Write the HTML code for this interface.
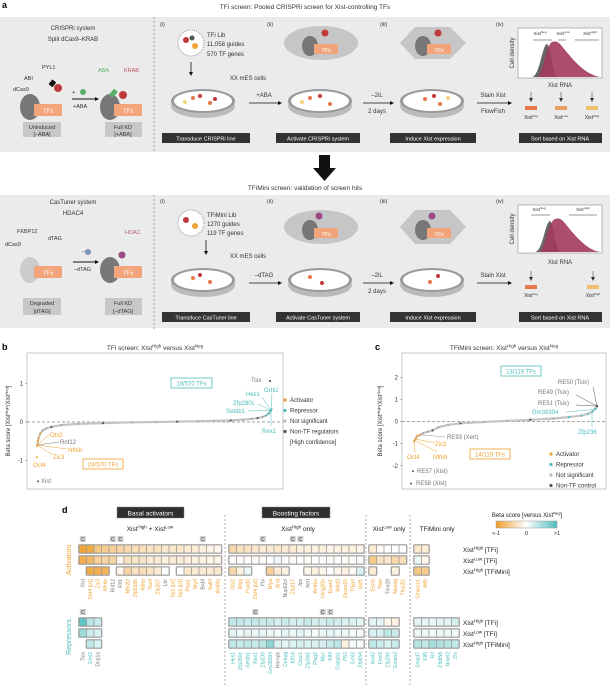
<!DOCTYPE html>
<html><head><meta charset="utf-8">
<style>
html,body{margin:0;padding:0;background:#fff;}
svg{display:block;font-family:"Liberation Sans",sans-serif;}
</style></head>
<body>
<svg id="fig" width="610" height="685" viewBox="0 0 610 685" xmlns="http://www.w3.org/2000/svg">
<!-- ================= PANEL A ================= -->
<g>
<text x="2" y="8" font-size="9" font-weight="bold">a</text>
<text x="305" y="9" font-size="6.5" text-anchor="middle" fill="#333">TFi screen: Pooled CRISPRi screen for Xist-controlling TFs</text>
<rect x="0" y="17" width="610" height="135" fill="#ebebeb"/>
<line x1="154" y1="17" x2="154" y2="152" stroke="#888" stroke-dasharray="2,2" stroke-width="0.8"/>
<text x="73" y="30" font-size="6" text-anchor="middle" fill="#333">CRISPRi system</text>
<text x="73" y="41" font-size="6" text-anchor="middle" fill="#333">Split dCas9–KRAB</text>
<!-- simplified left diagram -->
<ellipse cx="30" cy="107" rx="10" ry="13" fill="#777"/>
<rect x="34" y="104" width="28" height="12" fill="#f2a57a"/>
<text x="48" y="113" font-size="6" font-style="italic" fill="#fff" text-anchor="middle">TFx</text>
<text x="13" y="91" font-size="5.5" fill="#333">dCas9</text>
<text x="24" y="80" font-size="5.5" fill="#333">ABI</text>
<text x="42" y="69" font-size="5.5" fill="#333">PYL1</text>
<circle cx="58" cy="88" r="4" fill="#c0393b"/>
<rect x="50" y="80" width="5" height="6" fill="#111" transform="rotate(40 52 83)"/>
<text x="72" y="94" font-size="5.5" fill="#333">+</text>
<circle cx="83" cy="92" r="3" fill="#5aae6a"/>
<line x1="72" y1="99" x2="95" y2="99" stroke="#111" stroke-width="1"/>
<polygon points="95,97 99,99 95,101" fill="#111"/>
<text x="73" y="108" font-size="5.5" fill="#333">+ABA</text>
<ellipse cx="110" cy="107" rx="10" ry="13" fill="#777"/>
<rect x="114" y="104" width="28" height="12" fill="#f2a57a"/>
<text x="128" y="113" font-size="6" font-style="italic" fill="#fff" text-anchor="middle">TFx</text>
<text x="98" y="72" font-size="5.5" fill="#5aae6a">ABA</text>
<text x="124" y="72" font-size="5.5" fill="#c05060">KRAB</text>
<circle cx="123" cy="95" r="4" fill="#c0393b"/>
<rect x="111" y="89" width="5" height="8" fill="#5aae6a" transform="rotate(40 113 93)"/>
<rect x="23" y="122" width="38" height="15" fill="#c8c8c8"/>
<text x="42" y="129" font-size="5.5" text-anchor="middle" fill="#333">Uninduced</text>
<text x="42" y="136" font-size="5.5" text-anchor="middle" fill="#333">[–ABA]</text>
<rect x="105" y="122" width="37" height="15" fill="#c8c8c8"/>
<text x="123" y="129" font-size="5.5" text-anchor="middle" fill="#333">Full KD</text>
<text x="123" y="136" font-size="5.5" text-anchor="middle" fill="#333">[+ABA]</text>
<text x="160" y="26" font-size="5.5" fill="#333">(i)</text>
<text x="267" y="26" font-size="5.5" fill="#333">(ii)</text>
<text x="380" y="26" font-size="5.5" fill="#333">(iii)</text>
<text x="496" y="26" font-size="5.5" fill="#333">(iv)</text>
<circle cx="191" cy="43" r="13" fill="#fff" stroke="#999" stroke-dasharray="1,1"/>
<circle cx="186" cy="40" r="3" fill="#c0393b"/><circle cx="195" cy="46" r="3" fill="#f0a43a"/><circle cx="192" cy="38" r="2.5" fill="#555"/>
<text x="207" y="37" font-size="6" fill="#333">TFi Lib</text>
<text x="207" y="46" font-size="6" fill="#333">11,058 guides</text>
<text x="207" y="56" font-size="6" fill="#333">570 TF genes</text>
<line x1="191" y1="62" x2="191" y2="73" stroke="#111" stroke-width="0.8"/><polygon points="189,72 191,76 193,72" fill="#111"/>
<text x="248" y="80" font-size="6" text-anchor="middle" fill="#333">XX mES cells</text>
<g>
<ellipse cx="203" cy="106" rx="32" ry="12" fill="#bbb"/><ellipse cx="203" cy="101" rx="32" ry="12" fill="#999"/><ellipse cx="203" cy="101" rx="29" ry="10" fill="#fff"/>
<ellipse cx="320" cy="106" rx="32" ry="12" fill="#bbb"/><ellipse cx="320" cy="101" rx="32" ry="12" fill="#999"/><ellipse cx="320" cy="101" rx="29" ry="10" fill="#fff"/>
<ellipse cx="432" cy="106" rx="32" ry="12" fill="#bbb"/><ellipse cx="432" cy="101" rx="32" ry="12" fill="#999"/><ellipse cx="432" cy="101" rx="29" ry="10" fill="#fff"/>
</g>
<g fill="#e8784a"><circle cx="193" cy="98" r="2"/><circle cx="210" cy="103" r="2"/><circle cx="310" cy="98" r="2"/><circle cx="330" cy="104" r="2"/><circle cx="425" cy="99" r="2"/><circle cx="440" cy="104" r="2"/></g>
<g fill="#c0393b"><circle cx="200" cy="96" r="2"/><circle cx="215" cy="99" r="2"/><circle cx="320" cy="96" r="2"/><circle cx="434" cy="96" r="2"/></g>
<g fill="#f4d27a"><circle cx="185" cy="102" r="2"/><circle cx="302" cy="102" r="2"/><circle cx="448" cy="98" r="2"/></g>
<ellipse cx="321" cy="43" rx="37" ry="17" fill="#c6c6c6"/>
<polygon points="400,43 415,27 450,27 466,43 450,59 415,59" fill="#c6c6c6"/>
<ellipse cx="310" cy="46" rx="8" ry="10" fill="#777"/><rect x="314" y="44" width="24" height="10" fill="#f2a57a"/><text x="326" y="52" font-size="5.5" font-style="italic" fill="#fff" text-anchor="middle">TFx</text>
<ellipse cx="423" cy="46" rx="8" ry="10" fill="#777"/><rect x="427" y="44" width="24" height="10" fill="#f2a57a"/><text x="439" y="52" font-size="5.5" font-style="italic" fill="#fff" text-anchor="middle">TFx</text>
<circle cx="325" cy="33" r="3.5" fill="#c0393b"/><circle cx="438" cy="33" r="3.5" fill="#c0393b"/>
<line x1="249" y1="103" x2="278" y2="103" stroke="#111" stroke-width="0.8"/><polygon points="278,101 282,103 278,105" fill="#111"/>
<text x="264" y="97" font-size="6" text-anchor="middle" fill="#333">+ABA</text>
<line x1="363" y1="103" x2="390" y2="103" stroke="#111" stroke-width="0.8"/><polygon points="390,101 394,103 390,105" fill="#111"/>
<text x="377" y="97" font-size="6" text-anchor="middle" fill="#333">–2iL</text>
<text x="377" y="113" font-size="6" text-anchor="middle" fill="#333">2 days</text>
<line x1="477" y1="103" x2="508" y2="103" stroke="#111" stroke-width="0.8"/><polygon points="508,101 512,103 508,105" fill="#111"/>
<text x="493" y="97" font-size="6" text-anchor="middle" fill="#333">Stain Xist</text>
<text x="493" y="113" font-size="6" text-anchor="middle" fill="#333">FlowFish</text>
<rect x="162" y="133" width="88" height="10" fill="#333"/><text x="206" y="140.5" font-size="5.5" fill="#fff" text-anchor="middle">Transduce CRISPRi line</text>
<rect x="276" y="133" width="84" height="10" fill="#333"/><text x="318" y="140.5" font-size="5.5" fill="#fff" text-anchor="middle">Activate CRISPRi system</text>
<rect x="390" y="133" width="86" height="10" fill="#333"/><text x="433" y="140.5" font-size="5.5" fill="#fff" text-anchor="middle">Induce Xist expression</text>
<rect x="519" y="133" width="83" height="10" fill="#333"/><text x="560" y="140.5" font-size="5.5" fill="#fff" text-anchor="middle">Sort based on Xist RNA</text>
<rect x="518" y="28" width="84" height="50" fill="#fff" stroke="#777" stroke-width="0.5"/>
<path d="M532,77 C540,76 542,45 547,44 C551,46 552,76 558,77 Z" fill="#666"/>
<path d="M538,77 C544,70 546,45 552,42 C558,40 560,44 565,50 C575,62 585,74 600,77 Z" fill="#a3385f" opacity="0.9"/>
<text x="514" y="53" font-size="6" text-anchor="middle" fill="#333" transform="rotate(-90 514 53)">Cell density</text>
<text x="560" y="87" font-size="6" text-anchor="middle" fill="#333">Xist RNA</text>
<text x="540" y="35" font-size="4.5" text-anchor="middle" fill="#333">Xist<tspan font-size="3" dy="-2">Neg</tspan></text>
<text x="563" y="35" font-size="4.5" text-anchor="middle" fill="#333">Xist<tspan font-size="3" dy="-2">Low</tspan></text>
<text x="590" y="35" font-size="4.5" text-anchor="middle" fill="#333">Xist<tspan font-size="3" dy="-2">High</tspan></text>
<g stroke="#333" stroke-width="0.5"><line x1="533" y1="40" x2="552" y2="40"/><line x1="558" y1="40" x2="566" y2="40"/><line x1="575" y1="40" x2="599" y2="40"/></g>
<g fill="#333"><polygon points="529,98 531,102 533,98"/><polygon points="559,98 561,102 563,98"/><polygon points="590,98 592,102 594,98"/></g>
<g stroke="#333" stroke-width="0.5"><line x1="531" y1="92" x2="531" y2="98"/><line x1="561" y1="92" x2="561" y2="98"/><line x1="592" y1="92" x2="592" y2="98"/></g>
<rect x="525" y="106" width="12" height="4" fill="#e8784a"/><rect x="555" y="106" width="12" height="4" fill="#e8a060"/><rect x="586" y="106" width="12" height="4" fill="#f0c070"/>
<text x="531" y="119" font-size="5" text-anchor="middle" fill="#333">Xist<tspan font-size="3" dy="-2">Neg</tspan></text>
<text x="561" y="119" font-size="5" text-anchor="middle" fill="#333">Xist<tspan font-size="3" dy="-2">Low</tspan></text>
<text x="592" y="119" font-size="5" text-anchor="middle" fill="#333">Xist<tspan font-size="3" dy="-2">High</tspan></text>
<polygon points="319,155 330,155 330,168 336,168 324.5,181 313,168 319,168" fill="#111"/>
<text x="305" y="190" font-size="6.5" text-anchor="middle" fill="#333">TFiMini screen: validation of screen hits</text>
<rect x="0" y="195" width="610" height="133" fill="#ebebeb"/>
<line x1="154" y1="195" x2="154" y2="330" stroke="#888" stroke-dasharray="2,2" stroke-width="0.8"/>
<text x="73" y="204" font-size="6" text-anchor="middle" fill="#333">CasTuner system</text>
<text x="73" y="215" font-size="6" text-anchor="middle" fill="#333">HDAC4</text>
<ellipse cx="30" cy="270" rx="10" ry="13" fill="#ccc"/><rect x="34" y="266" width="28" height="12" fill="#f2a57a"/><text x="48" y="275" font-size="6" font-style="italic" fill="#fff" text-anchor="middle">TFx</text>
<text x="5" y="246" font-size="5.5" fill="#333">dCas9</text><text x="17" y="233" font-size="5.5" fill="#333">FKBP12</text><text x="48" y="240" font-size="5.5" fill="#333">dTAG</text>
<text x="82" y="253" font-size="5.5" fill="#333">–</text><circle cx="88" cy="252" r="3" fill="#7a95b5"/>
<line x1="73" y1="262" x2="95" y2="262" stroke="#111" stroke-width="1"/><polygon points="95,260 99,262 95,264" fill="#111"/>
<text x="74" y="271" font-size="5.5" fill="#333">–dTAG</text>
<ellipse cx="110" cy="270" rx="10" ry="13" fill="#777"/><rect x="114" y="266" width="28" height="12" fill="#f2a57a"/><text x="128" y="275" font-size="6" font-style="italic" fill="#fff" text-anchor="middle">TFx</text>
<text x="125" y="234" font-size="5.5" fill="#b0608e">HDAC</text><circle cx="122" cy="255" r="3.5" fill="#9a4a82"/>
<rect x="23" y="298" width="38" height="17" fill="#c8c8c8"/><text x="42" y="305" font-size="5.5" text-anchor="middle" fill="#333">Degraded</text><text x="42" y="313" font-size="5.5" text-anchor="middle" fill="#333">[dTAG]</text>
<rect x="105" y="298" width="37" height="17" fill="#c8c8c8"/><text x="123" y="305" font-size="5.5" text-anchor="middle" fill="#333">Full KD</text><text x="123" y="313" font-size="5.5" text-anchor="middle" fill="#333">[–dTAG]</text>
<text x="160" y="203" font-size="5.5" fill="#333">(i)</text><text x="267" y="203" font-size="5.5" fill="#333">(ii)</text><text x="380" y="203" font-size="5.5" fill="#333">(iii)</text><text x="496" y="203" font-size="5.5" fill="#333">(iv)</text>
<circle cx="191" cy="223" r="13" fill="#fff" stroke="#999" stroke-dasharray="1,1"/>
<circle cx="186" cy="220" r="3" fill="#c0393b"/><circle cx="195" cy="226" r="3" fill="#f0a43a"/>
<text x="207" y="217" font-size="6" fill="#333">TFiMini Lib</text><text x="207" y="226" font-size="6" fill="#333">1270 guides</text><text x="207" y="235" font-size="6" fill="#333">119 TF genes</text>
<line x1="206" y1="240" x2="206" y2="252" stroke="#111" stroke-width="0.8"/><polygon points="204,251 206,255 208,251" fill="#111"/>
<text x="248" y="258" font-size="6" text-anchor="middle" fill="#333">XX mES cells</text>
<ellipse cx="203" cy="285" rx="32" ry="12" fill="#bbb"/><ellipse cx="203" cy="280" rx="32" ry="12" fill="#999"/><ellipse cx="203" cy="280" rx="29" ry="10" fill="#fff"/>
<ellipse cx="320" cy="285" rx="32" ry="12" fill="#bbb"/><ellipse cx="320" cy="280" rx="32" ry="12" fill="#999"/><ellipse cx="320" cy="280" rx="29" ry="10" fill="#fff"/>
<ellipse cx="432" cy="285" rx="32" ry="12" fill="#bbb"/><ellipse cx="432" cy="280" rx="32" ry="12" fill="#999"/><ellipse cx="432" cy="280" rx="29" ry="10" fill="#fff"/>
<g fill="#e8784a"><circle cx="193" cy="278" r="2"/><circle cx="210" cy="282" r="2"/><circle cx="310" cy="277" r="2"/><circle cx="430" cy="282" r="2"/></g>
<g fill="#c0393b"><circle cx="200" cy="275" r="2"/><circle cx="322" cy="283" r="2"/><circle cx="438" cy="276" r="2"/></g>
<ellipse cx="321" cy="227" rx="37" ry="17" fill="#c6c6c6"/>
<polygon points="400,227 415,210 450,210 466,227 450,244 415,244" fill="#c6c6c6"/>
<ellipse cx="310" cy="230" rx="8" ry="10" fill="#777"/><rect x="314" y="228" width="24" height="10" fill="#f2a57a"/><text x="326" y="236" font-size="5.5" font-style="italic" fill="#fff" text-anchor="middle">TFx</text>
<ellipse cx="423" cy="230" rx="8" ry="10" fill="#777"/><rect x="427" y="228" width="24" height="10" fill="#f2a57a"/><text x="439" y="236" font-size="5.5" font-style="italic" fill="#fff" text-anchor="middle">TFx</text>
<circle cx="319" cy="216" r="3.5" fill="#9a4a82"/><circle cx="432" cy="216" r="3.5" fill="#9a4a82"/>
<line x1="249" y1="283" x2="278" y2="283" stroke="#111" stroke-width="0.8"/><polygon points="278,281 282,283 278,285" fill="#111"/>
<text x="264" y="277" font-size="6" text-anchor="middle" fill="#333">–dTAG</text>
<line x1="363" y1="283" x2="390" y2="283" stroke="#111" stroke-width="0.8"/><polygon points="390,281 394,283 390,285" fill="#111"/>
<text x="377" y="277" font-size="6" text-anchor="middle" fill="#333">–2iL</text><text x="377" y="293" font-size="6" text-anchor="middle" fill="#333">2 days</text>
<line x1="477" y1="283" x2="508" y2="283" stroke="#111" stroke-width="0.8"/><polygon points="508,281 512,283 508,285" fill="#111"/>
<text x="493" y="277" font-size="6" text-anchor="middle" fill="#333">Stain Xist</text>
<rect x="162" y="312" width="88" height="10" fill="#333"/><text x="206" y="319.5" font-size="5.5" fill="#fff" text-anchor="middle">Transduce CasTuner line</text>
<rect x="276" y="312" width="84" height="10" fill="#333"/><text x="318" y="319.5" font-size="5.5" fill="#fff" text-anchor="middle">Activate CasTuner system</text>
<rect x="390" y="312" width="86" height="10" fill="#333"/><text x="433" y="319.5" font-size="5.5" fill="#fff" text-anchor="middle">Induce Xist expression</text>
<rect x="519" y="312" width="83" height="10" fill="#333"/><text x="560" y="319.5" font-size="5.5" fill="#fff" text-anchor="middle">Sort based on Xist RNA</text>
<rect x="518" y="205" width="84" height="48" fill="#fff" stroke="#777" stroke-width="0.5"/>
<path d="M535,252 C543,251 545,222 550,221 C554,223 555,251 561,252 Z" fill="#666"/>
<path d="M540,252 C546,245 548,222 555,219 C561,217 563,221 568,227 C578,239 588,250 600,252 Z" fill="#a3385f" opacity="0.9"/>
<text x="514" y="229" font-size="6" text-anchor="middle" fill="#333" transform="rotate(-90 514 229)">Cell density</text>
<text x="560" y="264" font-size="6" text-anchor="middle" fill="#333">Xist RNA</text>
<text x="539" y="211" font-size="4.5" text-anchor="middle" fill="#333">Xist<tspan font-size="3" dy="-2">Neg</tspan></text>
<text x="583" y="211" font-size="4.5" text-anchor="middle" fill="#333">Xist<tspan font-size="3" dy="-2">High</tspan></text>
<g stroke="#333" stroke-width="0.5"><line x1="531" y1="215" x2="550" y2="215"/><line x1="569" y1="215" x2="597" y2="215"/><line x1="531" y1="271" x2="531" y2="277"/><line x1="593" y1="271" x2="593" y2="277"/></g>
<g fill="#333"><polygon points="529,277 531,281 533,277"/><polygon points="591,277 593,281 595,277"/></g>
<rect x="525" y="285" width="12" height="4" fill="#e8784a"/><rect x="587" y="285" width="12" height="4" fill="#f0c070"/>
<text x="531" y="297" font-size="5" text-anchor="middle" fill="#333">Xist<tspan font-size="3" dy="-2">Neg</tspan></text>
<text x="593" y="297" font-size="5" text-anchor="middle" fill="#333">Xist<tspan font-size="3" dy="-2">High</tspan></text>
</g>

<!-- ================= PANEL B/C static ================= -->
<text x="2" y="350" font-size="9" font-weight="bold">b</text>
<text x="155" y="350" font-size="6.5" text-anchor="middle" fill="#333">TFi screen: Xist<tspan font-size="4.5" dy="-2.5">High</tspan><tspan dy="2.5"> versus Xist</tspan><tspan font-size="4.5" dy="-2.5">Neg</tspan></text>
<text x="375" y="350" font-size="9" font-weight="bold">c</text>
<text x="504" y="350" font-size="6.5" text-anchor="middle" fill="#333">TFiMini screen: Xist<tspan font-size="4.5" dy="-2.5">High</tspan><tspan dy="2.5"> versus Xist</tspan><tspan font-size="4.5" dy="-2.5">Neg</tspan></text>
<g id="plotB"></g>
<g id="plotC"></g>
<!-- ================= PANEL D ================= -->
<text x="62" y="513" font-size="9" font-weight="bold">d</text>
<g id="heat"></g>
</svg>
<script>
// ---------- Panel b data ----------
const rankB = [0,2,4,8,14,22,35,60,100,160,230,290,340,390,430,470,500,520,535,548,556,562,566,569];
const betaB = [-0.62,-0.5,-0.42,-0.3,-0.22,-0.17,-0.13,-0.08,-0.05,-0.03,-0.01,0,0.01,0.02,0.03,0.04,0.06,0.08,0.1,0.13,0.17,0.22,0.28,0.33];
const ticksB = [-1,0,1];
const legendB = ["Activator","Repressor","Not significant","Non-TF regulators","[High confidence]"];
// ---------- Panel c data ----------
const rankC = [0,1,2,4,6,9,12,16,22,30,45,60,75,90,100,108,112,115,117,118];
const betaC = [-0.9,-0.78,-0.66,-0.6,-0.52,-0.46,-0.4,-0.25,-0.15,-0.08,-0.02,0.03,0.08,0.14,0.2,0.27,0.34,0.45,0.58,0.7];
const ticksC = [-2,-1,0,1,2];
const legendC = ["Activator","Repressor","Not significant","Non-TF control"];
// ---------- Panel d data ----------
const basalActGenes = ["Xist","Oct4 [p1]","Zic3","Nfrkb","Rnf12","Rif1","Nfe2l2","Zfp518b","Adnp","Tox4","Zfp207","Lbr","Sp1 [p2]","Sp1 [p1]","Pias1","Myrf","Brd4","Sall4","Arid4a"];
const basalActHigh = [-0.95,-0.9,-0.6,-0.55,-0.5,-0.45,-0.4,-0.35,-0.35,-0.3,-0.3,-0.25,-0.25,-0.25,-0.2,-0.2,-0.15,-0.12,-0.1];
const basalActLow  = [-0.85,-0.75,-0.5,-0.45,-0.45,-0.1,-0.3,-0.25,-0.28,-0.2,-0.2,-0.15,-0.2,-0.2,-0.18,-0.15,-0.15,-0.12,-0.1];
const basalActMini = [null,-0.9,-0.85,-0.8,null,-0.1,-0.45,-0.3,-0.35,-0.3,-0.2,0,null,0,-0.25,-0.2,-0.2,-0.2,-0.25];
const basalActC = [0,4,5,16];
const boostActGenes = ["Otx2","Rbpj","Foxd3","Oct4 [p2]","Ftx","Nfya","Arnt","Nup62cl","Zfp217","Jpx","Xert","Arid1a","Hmg20b","Epas1","Mbd3","Zscan10","Tfap4","Usf1"];
const boostActHigh = [-0.4,-0.3,-0.3,-0.25,-0.2,-0.2,-0.25,-0.2,-0.2,-0.15,-0.15,-0.15,-0.15,-0.1,-0.15,-0.15,-0.15,-0.1];
const boostActLow  = [0,-0.05,0,-0.05,-0.05,0,0.1,0,-0.05,0,-0.05,0,0,-0.05,0,-0.05,0,-0.05];
const boostActMini = [-0.4,-0.15,0.1,null,null,-0.5,-0.2,-0.15,null,null,-0.1,-0.15,-0.1,0,-0.1,-0.15,-0.05,0.2];
const boostActC = [4,8,9];
const lowActGenes = ["Esrrb","Tfeb","Trim28","Nanog","Tfcp2l1"];
const lowActHigh = [-0.2,-0.05,0,0,0];
const lowActLow  = [-0.55,-0.3,-0.25,-0.4,-0.35];
const lowActMini = [-0.2,null,null,-0.15,null];
const miniActGenes = ["Smarcc1","Atf5"];
const miniActHigh = [-0.25,-0.2];
const miniActLow  = [0.1,-0.1];
const miniActMini = [-0.6,-0.55];
const basalRepGenes = ["Tsix","Grhl2","Dcp1a"];
const basalRepHigh = [0.9,0.4,0.3];
const basalRepLow  = [0.55,0.3,0.2];
const basalRepMini = [null,0.35,0.2];
const basalRepC = [0];
const boostRepGenes = ["Hes1","Zfp280c","Setdb1","Rex1","Zfp236","Gm38394","Hnrnpk","Cebpg","Klf16","Cxxc1","Zfp36l1","Plag2","Myc","Klf4","Gabpb1","P53","Grhl3","Zfp654"];
const boostRepHigh = [0.35,0.35,0.3,0.35,0.3,0.3,0.25,0.3,0.25,0.25,0.3,0.25,0.25,0.3,0.25,0.2,0.2,0.15];
const boostRepLow  = [0.15,0.1,0.15,0.1,0.15,0.1,0.05,0.15,0.1,0.15,0.1,0.05,0.1,0.15,0.1,0.1,0.05,0.05];
const boostRepMini = [0.35,0.3,0.35,0.3,0.4,0.65,0.2,0.15,0.2,0.25,0.2,0.2,0.25,0.3,0.4,-0.15,0.05,0.05];
const boostRepC = [3,12,13];
const lowRepGenes = ["Ascl2","Foxi3","Zfp296","Gmeb2"];
const lowRepHigh = [0.15,0.15,-0.1,-0.15];
const lowRepLow  = [0.2,0.2,0.4,0.3];
const lowRepMini = [0.35,0.3,0.2,0.3];
const miniRepGenes = ["Smad7","Klf5","Rif","Zfp858","Nmel2","Zfx"];
const miniRepHigh = [0.15,0.15,0.1,0.15,0.15,0.25];
const miniRepLow  = [0.1,0.1,0.05,0.1,0.1,0.05];
const miniRepMini = [0.4,0.35,0.5,0.45,0.4,0.35];
const rowLabelsBase = ["[TFi]","[TFi]","[TFiMini]"];
const rowLabelSups = ["High","Low","High"];

const NS = "http://www.w3.org/2000/svg";
const ORANGE = "#F0A030", TEAL = "#4DBDBD", GREY = "#bbbbbb", DARK = "#555";
function mk(tag, attrs, parent){ const e=document.createElementNS(NS,tag); for(const k in attrs) e.setAttribute(k,attrs[k]); parent.appendChild(e); return e; }

// ---------- rank plot builder ----------
function rankPlot(g, box, yMin, yMax, ranks, betas, nMax, xRange, ticks){
  const y = v => box.y + (yMax - v) / (yMax - yMin) * box.h;
  const x = r => xRange[0] + r / nMax * (xRange[1]-xRange[0]);
  const fr = mk("rect",{x:box.x,y:box.y,width:box.w,height:box.h,fill:"#fff",stroke:"#bbb","stroke-width":0.8},g);
  
  
  ticks.forEach(t=>{
    const tl = mk("text",{x:box.x-4,y:y(t)+2,"font-size":6,"text-anchor":"end",fill:"#333"},g);
    tl.textContent = t;
    
    
    mk("line",{x1:box.x-2,x2:box.x,y1:y(t),y2:y(t),stroke:"#777","stroke-width":0.5},g);
  });
  const zl = mk("line",{x1:box.x,x2:box.x+box.w,y1:y(0),y2:y(0),stroke:"#999","stroke-dasharray":"3,2","stroke-width":0.8},g);
  
  
  let d = "";
  ranks.forEach((r,i)=>{ d += (i?"L":"M") + x(r).toFixed(1) + "," + y(betas[i]).toFixed(1); });
  const ln = mk("path",{d:d,fill:"none",stroke:"#c4c4c4","stroke-width":2.2},g);
  
  
  ranks.forEach((r,i)=>{
    const b = betas[i];
    const col = (i<4 && b<-0.15) ? ORANGE : (b>0.15 ? TEAL : (i%3===0 ? DARK : "#aaa"));
    const c = mk("circle",{cx:x(r),cy:y(b),r:1.1,fill:col},g);
    
    
  });
  return {x,y};
}
function txt(g, s, X, Y, col, size, anchor){
  const t = mk("text",{x:X,y:Y,"font-size":size||6,fill:col||"#333","text-anchor":anchor||"start"},g);
  t.textContent = s; return t;
}
function axisTitle(g, X, Y){
  const t = mk("text",{x:X,y:Y,"font-size":6,fill:"#333","text-anchor":"middle",transform:`rotate(-90 ${X} ${Y})`},g);
  t.innerHTML = 'Beta score [Xist<tspan font-size="4" dy="-2">High</tspan><tspan dy="2">/Xist</tspan><tspan font-size="4" dy="-2">Neg</tspan><tspan dy="2">]</tspan>';
  
  
}
function legend(g, items, X, Y0, dy){
  const cols=[ORANGE,TEAL,GREY,DARK,null];
  items.forEach((s,i)=>{
    if(cols[i]) mk("circle",{cx:X,cy:Y0+i*dy-2,r:1.6,fill:cols[i]},g);
    const t = txt(g,s,X+5,Y0+i*dy,"#333",6);
    
    
  });
}
function boxLabel(g, s, X, Y, w, col){
  mk("rect",{x:X,y:Y,width:w,height:10,fill:"none",stroke:col,"stroke-width":0.8},g);
  const t = txt(g,s,X+w/2,Y+7.5,col,6,"middle");
  
  
}
function lead(g,x1,y1,x2,y2,col){ mk("line",{x1,y1,x2,y2,stroke:col,"stroke-width":0.5},g); }

// ---------- Panel b ----------
const gB = document.getElementById("plotB");
const B = rankPlot(gB,{x:27,y:353,w:256,h:136},-1.75,1.8,rankB,betaB,570,[37,272],ticksB);
axisTitle(gB,10,421);
legend(gB,legendB,285,402,10.5);
boxLabel(gB,"18/570 TFs",171,378,41,TEAL);
boxLabel(gB,"24/570 TFs",83,459,40,ORANGE);
mk("circle",{cx:270,cy:B.y(1.07),r:1.1,fill:DARK},gB);
txt(gB,"Tsix",251,382,"#777",6);
mk("circle",{cx:38,cy:B.y(-1.55),r:1,fill:DARK},gB);
txt(gB,"Xist",41,483,"#777",6);
mk("circle",{cx:37,cy:B.y(-0.92),r:1,fill:ORANGE},gB);
txt(gB,"Oct4",33,467,ORANGE,6);
const px = 271, py = B.y(0.3);
txt(gB,"Grhl2",264,392,TEAL,6); lead(gB,272,393,px,py,TEAL);
txt(gB,"Hes1",246,396,TEAL,6); lead(gB,262,397,px,py,TEAL);
txt(gB,"Zfp280c",233,405,TEAL,6); lead(gB,258,404,px,py,TEAL);
txt(gB,"Setdb1",226,413,TEAL,6); lead(gB,248,411,px,py,TEAL);
txt(gB,"Rex1",262,433,TEAL,6); lead(gB,271,426,px,py,TEAL);
const ax = 37, ay = B.y(-0.6);
txt(gB,"Otx2",50,437,ORANGE,6); lead(gB,50,434,ax,ay,ORANGE);
txt(gB,"Rnf12",60,444,"#777",6); lead(gB,59,442,ax,ay,"#777");
txt(gB,"Nfrkb",68,452,ORANGE,6); lead(gB,67,449,ax,ay,ORANGE);
txt(gB,"Zic3",53,459,ORANGE,6); lead(gB,53,455,ax,ay,ORANGE);

// ---------- Panel c ----------
const gC = document.getElementById("plotC");
const C = rankPlot(gC,{x:402,y:353,w:204,h:136},-3.05,3.1,rankC,betaC,118,[414,597],ticksC);
axisTitle(gC,382,421);
legend(gC,legendC,551,456,10.5);
boxLabel(gC,"13/119 TFs",501,366,40,TEAL);
boxLabel(gC,"14/119 TFs",470,449,40,ORANGE);
const cx = 597, cy = C.y(0.7);
txt(gC,"RE50 (Tsix)",558,384,"#777",6); lead(gC,593,387,cx,cy,"#555");
txt(gC,"RE49 (Tsix)",538,394,"#777",6); lead(gC,576,395,cx,cy,"#555");
txt(gC,"RE51 (Tsix)",538,405,"#777",6); lead(gC,576,405,cx,cy,"#555");
txt(gC,"Gm38394",532,414,TEAL,6); lead(gC,566,412,595,C.y(0.55),TEAL);
txt(gC,"Zfp236",578,434,TEAL,6); lead(gC,592,427,592,C.y(0.5),TEAL);
mk("circle",{cx:cx,cy:cy,r:1.2,fill:DARK},gC);
txt(gC,"RE93 (Xert)",447,439,"#777",6); lead(gC,445,437,421,C.y(-0.6),"#999");
txt(gC,"Zic3",435,446,ORANGE,6); lead(gC,435,443,416,C.y(-0.8),ORANGE);
txt(gC,"Oct4",407,459,ORANGE,6); lead(gC,415,452,414,C.y(-0.9),ORANGE);
txt(gC,"Nfrkb",433,459,ORANGE,6); lead(gC,437,452,415,C.y(-0.85),ORANGE);
mk("circle",{cx:413,cy:C.y(-2.25),r:1,fill:DARK},gC);
txt(gC,"RE57 (Xist)",417,473,"#777",6);
mk("circle",{cx:411,cy:C.y(-2.8),r:1,fill:DARK},gC);
txt(gC,"RE58 (Xist)",416,485,"#777",6);

// ---------- Panel d ----------
const gD = document.getElementById("heat");
const CW = 7.5, CH = 8;
function colorOf(v){
  const a=[240,160,48], w=[255,255,255], t=[77,189,189];
  const s = Math.max(-1,Math.min(1,v));
  const c = s<0 ? a : t, f = Math.abs(s);
  return `rgb(${Math.round(w[0]+(c[0]-w[0])*f)},${Math.round(w[1]+(c[1]-w[1])*f)},${Math.round(w[2]+(c[2]-w[2])*f)})`;
}
const greyGenes = new Set(["Xist","Rnf12","Rif1","Lbr","Brd4","Ftx","Nup62cl","Jpx","Xert","Trim28","Tsix","Dcp1a","Hnrnpk"]);
function drawRow(x0, y0, vals){
  let i=0;
  while(i<vals.length){
    if(vals[i]===null){ i++; continue; }
    let j=i; while(j<vals.length && vals[j]!==null) j++;
    const outer = mk("rect",{x:x0+i*CW-0.8,y:y0-0.8,width:(j-i)*CW+1.6,height:CH+1.6,rx:1.2,fill:"#999"},gD);
    
    
    for(let k=i;k<j;k++){
      const c = mk("rect",{x:x0+k*CW+0.4,y:y0+0.4,width:CW-0.8,height:CH-0.8,fill:colorOf(vals[k])},gD);
      
      
    }
    i=j;
  }
}
function drawGroup(x0, ys, rows, genes, cIdx, labY, colBase){
  rows.forEach((r,i)=>drawRow(x0, ys[i], r));
  (cIdx||[]).forEach(k=>{
    mk("rect",{x:x0+k*CW+0.8,y:ys[0]-9,width:6,height:6,fill:"#d0d0d0"},gD);
    const t = txt(gD,"C",x0+k*CW+3.8,ys[0]-4,"#333",5,"middle");
    
    
  });
  genes.forEach((g,k)=>{
    const X = x0+k*CW+5.5, Y = labY;
    const t = mk("text",{x:X,y:Y,"font-size":5,"text-anchor":"end",fill:greyGenes.has(g)?"#777":colBase,transform:`rotate(-90 ${X} ${Y})`},gD);
    t.textContent = g;
    
    
  });
}
const actY = [545,556,567], repY = [618,629,640];
drawGroup(79, actY, [basalActHigh,basalActLow,basalActMini], basalActGenes, basalActC, 579, ORANGE);
drawGroup(229, actY, [boostActHigh,boostActLow,boostActMini], boostActGenes, boostActC, 579, ORANGE);
drawGroup(369, actY, [lowActHigh,lowActLow,lowActMini], lowActGenes, [], 579, ORANGE);
drawGroup(414, actY, [miniActHigh,miniActLow,miniActMini], miniActGenes, [], 579, ORANGE);
drawGroup(79, repY, [basalRepHigh,basalRepLow,basalRepMini], basalRepGenes, basalRepC, 652, TEAL);
drawGroup(229, repY, [boostRepHigh,boostRepLow,boostRepMini], boostRepGenes, boostRepC, 652, TEAL);
drawGroup(369, repY, [lowRepHigh,lowRepLow,lowRepMini], lowRepGenes, [], 652, TEAL);
drawGroup(414, repY, [miniRepHigh,miniRepLow,miniRepMini], miniRepGenes, [], 652, TEAL);
// group separators
[225,366,410].forEach(X=>{
  const l = mk("line",{x1:X,x2:X,y1:515,y2:685,stroke:"#888","stroke-dasharray":"2,2","stroke-width":0.7},gD);
  
  
});
// headers
[["Basal activators",117,184],["Boosting factors",262,330]].forEach(h=>{
  mk("rect",{x:h[1],y:507,width:h[2]-h[1],height:11,fill:"#2f2f2f",stroke:"#888","stroke-width":0.5},gD);
  const t = txt(gD,h[0],(h[1]+h[2])/2,515.5,"#fff",6.5,"middle");
  
  
});
function supText(s1, sup1, rest, X, Y, anchor, size){
  const t = mk("text",{x:X,y:Y,"font-size":size||6.5,fill:"#222","text-anchor":anchor||"middle"},gD);
  t.innerHTML = s1 + `<tspan font-size="4.5" dy="-2.5">${sup1}</tspan><tspan dy="2.5">${rest}</tspan>`;
  return t;
}
const s1 = mk("text",{x:150,y:531,"font-size":6.5,fill:"#222","text-anchor":"middle"},gD);
s1.innerHTML = 'Xist<tspan font-size="4.5" dy="-2.5">High</tspan><tspan dy="2.5"> + Xist</tspan><tspan font-size="4.5" dy="-2.5">Low</tspan>';


const s2 = supText("Xist","High"," only",298,531);


const s3 = supText("Xist","Low"," only",389,531);


const s4 = txt(gD,"TFiMini only",437,531,"#222",6.5,"middle");


// row labels
[actY, repY].forEach(ys=>{
  ys.forEach((Y,i)=>{
    const t = supText("Xist",rowLabelSups[i]," "+rowLabelsBase[i],463,Y+7,"start",6.5);
    
    
  });
});
// side labels
const sa = mk("text",{x:71,y:560,"font-size":7,fill:ORANGE,"text-anchor":"middle",transform:"rotate(-90 71 560)"},gD);
sa.textContent = "Activators";


const sr = mk("text",{x:71,y:637,"font-size":7,fill:TEAL,"text-anchor":"middle",transform:"rotate(-90 71 637)"},gD);
sr.textContent = "Repressors";


// colour bar
const defs = mk("defs",{},gD);
const lg = mk("linearGradient",{id:"cbar",x1:"0",x2:"1",y1:"0",y2:"0"},defs);
mk("stop",{offset:"0","stop-color":ORANGE},lg);
mk("stop",{offset:"0.5","stop-color":"#fff"},lg);
mk("stop",{offset:"1","stop-color":TEAL},lg);
const cb = mk("rect",{x:496,y:521,width:61,height:7,fill:"url(#cbar)",stroke:"#999","stroke-width":0.5},gD);


const ct = mk("text",{x:527,y:517,"font-size":6,fill:"#222","text-anchor":"middle"},gD);
ct.innerHTML = 'Beta score [versus Xist<tspan font-size="4" dy="-2.5">Neg</tspan><tspan dy="2.5">]</tspan>';


[["<-1",496],["0",526.5],[">1",557]].forEach(p=>{
  const t = txt(gD,p[0],p[1],535,"#222",5.5,"middle");
  
  
});
</script>
</body></html>
